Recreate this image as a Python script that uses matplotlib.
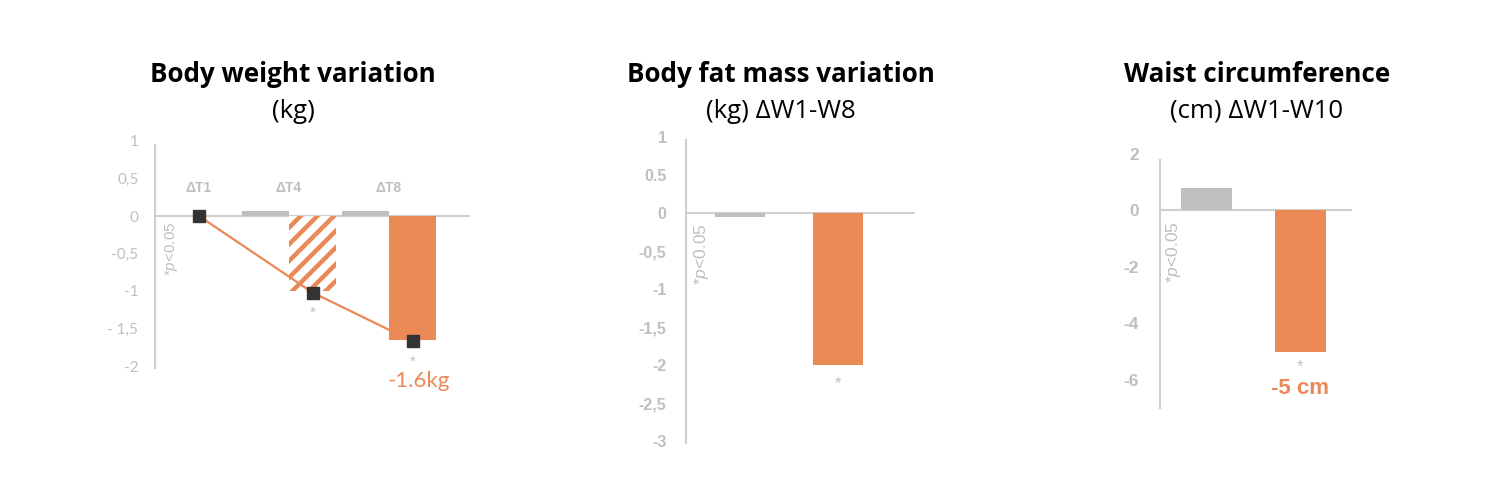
import matplotlib
matplotlib.use('Agg')
import matplotlib.pyplot as plt

# data
weight_groups = ['ΔT1', 'ΔT4', 'ΔT8']
weight_control = [0.0, 0.07, 0.07]
weight_treated = [0.0, -1.0, -1.65]
weight_points = [0.0, -1.02, -1.67]
weight_ticks = [1, 0.5, 0, -0.5, -1, -1.5, -2]
weight_ticklabels = ['1', '0,5', '0', '-0,5', '-1', '- 1,5', '-2']

fat_values = [-0.05, -2.0]
fat_ticks = [1, 0.5, 0, -0.5, -1, -1.5, -2, -2.5, -3]
fat_ticklabels = ['1', '0.5', '0', '-0,5', '-1', '-1,5', '-2', '-2,5', '-3']

waist_values = [0.8, -5.0]
waist_ticks = [2, 0, -2, -4, -6]
waist_ticklabels = ['2', '0', '-2', '-4', '-6']

ORANGE = '#EA8856'
GREY = '#BFBFBF'
LINE = '#CFCFCF'
DARK = '#333333'

plt.rcParams['font.family'] = ['Liberation Sans', 'DejaVu Sans']
plt.rcParams['mathtext.fontset'] = 'custom'
plt.rcParams['mathtext.it'] = 'Liberation Sans:italic'
plt.rcParams['mathtext.rm'] = 'Liberation Sans'
plt.rcParams['hatch.linewidth'] = 3.2

fig = plt.figure(figsize=(15, 5), dpi=100)


def style_axis(ax, ticks, labels, ybounds, fs, weight, pad):
    for s in ('top', 'right', 'bottom'):
        ax.spines[s].set_visible(False)
    ax.spines['left'].set_color(LINE)
    ax.spines['left'].set_linewidth(1.5)
    ax.spines['left'].set_bounds(*ybounds)
    ax.axhline(0, color=LINE, lw=1.5, zorder=1)
    ax.set_xticks([])
    ax.set_yticks(ticks)
    ax.set_yticklabels(labels, fontsize=fs, color=GREY, fontweight=weight)
    ax.tick_params(axis='y', length=0, pad=pad)
    ax.patch.set_alpha(0)


# panel 1: body weight
ax1 = fig.add_axes([155 / 1500, 1 - 366 / 500, 315 / 1500, 225 / 500])
pos = [0.1, 1.0, 2.0]
w = 0.47
for i, p in enumerate(pos):
    if weight_control[i] != 0:
        ax1.bar(p - w / 2, weight_control[i], width=w, color=GREY, zorder=2)
    if i == 1:
        ax1.bar(p + w / 2, weight_treated[i], width=w, facecolor='white',
                edgecolor=ORANGE, hatch='//', linewidth=0, zorder=2)
    elif weight_treated[i] != 0:
        ax1.bar(p + w / 2, weight_treated[i], width=w, color=ORANGE, zorder=2)
    ax1.text(p, 0.37, weight_groups[i], ha='center', va='center',
             fontsize=10, color=GREY, fontweight='bold')
mx = [p + (w / 2 if i else 0) for i, p in enumerate(pos)]
ax1.plot(mx, weight_points, color=ORANGE, lw=1.6, zorder=3)
ax1.plot(mx, weight_points, 's', color=DARK, ms=8.5, zorder=4)
for i in (1, 2):
    ax1.text(mx[i], weight_points[i] - 0.27, '*', ha='center', va='center',
             fontsize=11, color=GREY)
ax1.text(mx[2] + 0.06, -2.2, '-1.6kg', ha='center', va='center', fontsize=16,
         color=ORANGE, family=['Lato', 'DejaVu Sans'], clip_on=False)
ax1.text(-0.17, -0.44, '*$p$<0.05', rotation=90, ha='center', va='center',
         fontsize=11, color=GREY)
ax1.set_xlim(-0.34, 2.81)
ax1.set_ylim(-2.0, 1.0)
style_axis(ax1, weight_ticks, weight_ticklabels, (-2.03, 0.95), 11, 'normal', 12)
for t in ax1.get_yticklabels():
    t.set_family(['Lato', 'DejaVu Sans'])

# panel 2: body fat mass
ax2 = fig.add_axes([686 / 1500, 1 - 441 / 500, 229 / 1500, 304 / 500])
bw = 0.51
ax2.bar([0, 1], fat_values, width=bw, color=[GREY, ORANGE], zorder=2)
ax2.text(1, fat_values[1] - 0.24, '*', ha='center', va='center', fontsize=12, color=GREY)
ax2.text(-0.39, -0.54, '*$p$<0.05', rotation=90, ha='center', va='center',
         fontsize=12.5, color=GREY)
ax2.set_xlim(-0.55, 1.79)
ax2.set_ylim(-3.0, 1.0)
style_axis(ax2, fat_ticks, fat_ticklabels, (-3.03, 0.96), 11.5, 'bold', 14)

# panel 3: waist circumference
ax3 = fig.add_axes([1160 / 1500, 1 - 408 / 500, 192 / 1500, 254 / 500])
bw = 0.54
ax3.bar([0, 1], waist_values, width=bw, color=[GREY, ORANGE], zorder=2)
ax3.text(1, waist_values[1] - 0.55, '*', ha='center', va='center', fontsize=12, color=GREY)
ax3.text(1, waist_values[1] - 1.3, '-5 cm', ha='center', va='center', fontsize=16,
         color=ORANGE, fontweight='bold')
ax3.text(-0.35, -1.49, '*$p$<0.05', rotation=90, ha='center', va='center',
         fontsize=12.5, color=GREY)
ax3.set_xlim(-0.49, 1.55)
ax3.set_ylim(-7.0, 2.0)
style_axis(ax3, waist_ticks, waist_ticklabels, (-7.0, 1.8), 12.5, 'bold', 15)

# titles
titles = ['Body weight variation', 'Body fat mass variation', 'Waist circumference']
subtitles = ['(kg)', '(kg) ΔW1-W8', '(cm) ΔW1-W10']
centers = [293, 781, 1257]
for t, s, cx in zip(titles, subtitles, centers):
    fig.text(cx / 1500, 1 - 75 / 500, t, ha='center', va='center', fontsize=18.7,
             fontweight='bold', family=['Open Sans', 'DejaVu Sans'], color='black')
    fig.text(cx / 1500, 1 - 111 / 500, s, ha='center', va='center', fontsize=18.5,
             family=['Open Sans', 'DejaVu Sans'], color='black')

fig.savefig('out.png', dpi=100)
